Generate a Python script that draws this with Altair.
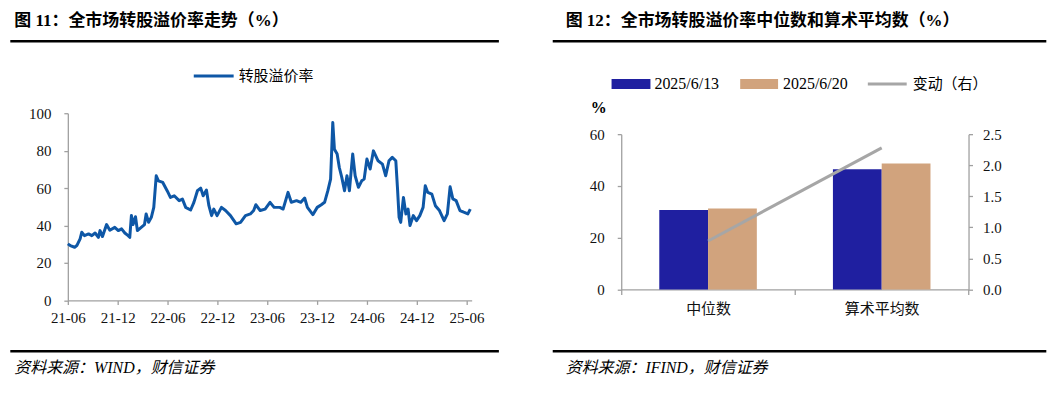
import altair as alt
import pandas as pd

# ---------------- data ----------------
dates = [
    "2021-06-01", "2021-06-10", "2021-06-26", "2021-07-04", "2021-07-16", "2021-07-22", "2021-08-01", "2021-08-16", "2021-08-28", "2021-09-09",
    "2021-09-21", "2021-09-27", "2021-10-06", "2021-10-21", "2021-11-02", "2021-11-20", "2021-12-03", "2021-12-15", "2021-12-27", "2022-01-08",
    "2022-01-14", "2022-01-20", "2022-01-26", "2022-02-04", "2022-02-11", "2022-02-25", "2022-03-09", "2022-03-15", "2022-03-24", "2022-04-03",
    "2022-04-12", "2022-04-21", "2022-04-29", "2022-05-15", "2022-05-31", "2022-06-12", "2022-06-26", "2022-07-14", "2022-07-26", "2022-08-07",
    "2022-08-25", "2022-09-06", "2022-09-19", "2022-10-01", "2022-10-10", "2022-10-22", "2022-10-31", "2022-11-10", "2022-11-18", "2022-11-30",
    "2022-12-16", "2022-12-31", "2023-01-18", "2023-02-08", "2023-02-24", "2023-03-14", "2023-04-01", "2023-04-13", "2023-04-21", "2023-05-07",
    "2023-05-25", "2023-06-12", "2023-06-27", "2023-07-18", "2023-07-30", "2023-08-17", "2023-08-29", "2023-09-17", "2023-10-03", "2023-10-17",
    "2023-10-27", "2023-11-16", "2023-12-02", "2023-12-17", "2023-12-29", "2024-01-10", "2024-01-20", "2024-01-28", "2024-02-03", "2024-02-13",
    "2024-02-21", "2024-03-01", "2024-03-11", "2024-03-20", "2024-03-29", "2024-04-10", "2024-04-19", "2024-05-01", "2024-05-13", "2024-05-22",
    "2024-06-01", "2024-06-13", "2024-06-25", "2024-07-12", "2024-07-28", "2024-08-09", "2024-08-21", "2024-09-02", "2024-09-15", "2024-09-21",
    "2024-09-27", "2024-10-03", "2024-10-13", "2024-10-22", "2024-10-30", "2024-11-06", "2024-11-18", "2024-11-30", "2024-12-12", "2024-12-24",
    "2025-01-01", "2025-01-10", "2025-01-25", "2025-02-07", "2025-02-22", "2025-03-11", "2025-03-23", "2025-04-02", "2025-04-12", "2025-04-24",
    "2025-05-08", "2025-05-22", "2025-06-06", "2025-06-15",
]
premium = [
    30.2, 29.3, 28.4, 29.3, 32.9, 36.4, 34.6, 35.5, 34.6, 36.0,
    33.7, 37.3, 34.1, 40.5, 37.5, 39.0, 37.3, 38.2, 36.0, 34.6,
    33.7, 45.3, 40.5, 44.7, 37.3, 39.0, 40.5, 46.2, 41.7, 44.4,
    49.7, 66.6, 63.9, 63.0, 58.6, 55.0, 55.9, 53.3, 54.1, 49.7,
    48.3, 52.4, 58.6, 60.0, 55.9, 59.0, 50.6, 45.3, 48.8, 45.3,
    49.7, 48.0, 45.3, 40.9, 41.7, 45.3, 46.2, 48.0, 51.1, 48.0,
    48.8, 52.4, 49.7, 49.7, 48.8, 57.7, 52.4, 53.3, 52.4, 54.7,
    49.7, 45.8, 49.7, 51.1, 52.4, 58.6, 64.8, 95.0, 80.8, 78.2,
    71.0, 65.7, 58.6, 66.6, 58.6, 78.2, 66.6, 60.4, 63.9, 64.8,
    75.5, 70.2, 79.9, 74.6, 72.8, 66.6, 74.6, 76.4, 74.6, 60.4,
    44.4, 41.7, 55.0, 46.2, 48.8, 40.0, 45.3, 42.6, 45.3, 49.7,
    61.3, 57.7, 56.8, 50.6, 48.0, 42.6, 46.2, 60.7, 54.2, 53.3,
    48.0, 47.1, 46.2, 48.8,
]
tick_dates = ["2021-06-01", "2021-12-01", "2022-06-01", "2022-12-01", "2023-06-01",
              "2023-12-01", "2024-06-01", "2024-12-01", "2025-06-01"]
x_domain = ["2021-06-01", "2025-06-20"]

categories = ["中位数", "算术平均数"]
series_names = ["2025/6/13", "2025/6/20"]
val_0613 = [30.7, 46.4]
val_0620 = [31.3, 48.7]
change = [0.78, 2.28]

# ---------------- style ----------------
SERIF = "Liberation Serif"
CJK = "Noto Sans CJK SC"
MIX = "Liberation Serif, Noto Sans CJK SC"
BLUE = "#0E57A6"
NAVY = "#1F1FA0"
TAN = "#D1A37D"
GRAY = "#A6A6A6"
AXC = "#A0A0A0"

W1, H1 = 405, 187.7
W2, H2 = 348.3, 176.7
TOP2 = 21


def to_ms(s):
    return int(pd.Timestamp(s, tz="UTC").value // 10**6)


df_line = pd.DataFrame({"date": [to_ms(d) for d in dates], "premium": premium})
df_bar = pd.DataFrame({
    "cat": categories * 2,
    "series": [series_names[0]] * 2 + [series_names[1]] * 2,
    "value": val_0613 + val_0620,
})
df_chg = pd.DataFrame({"cat": categories, "change": change})
one = pd.DataFrame({"k": [0]})


def txt(s, x, y, size, font, weight="normal", style="normal", align="left"):
    return alt.Chart(one).mark_text(
        text=s, align=align, baseline="middle", font=font, fontSize=size,
        fontWeight=weight, fontStyle=style, color="#000"
    ).encode(x=alt.value(x), y=alt.value(y))


def hrule(x1, x2, y, color="#000", width=2.5):
    return alt.Chart(one).mark_rule(color=color, strokeWidth=width).encode(
        x=alt.value(x1), x2=alt.value(x2), y=alt.value(y))


def box(x1, x2, y1, y2, color, opacity=1.0):
    return alt.Chart(one).mark_rect(color=color, opacity=opacity).encode(
        x=alt.value(x1), x2=alt.value(x2), y=alt.value(y1), y2=alt.value(y2))


# ---------------- left panel ----------------
line = alt.Chart(df_line).mark_line(color=BLUE, strokeWidth=3, strokeJoin="round").encode(
    x=alt.X("date:T",
            scale=alt.Scale(type="utc", domain=[to_ms(d) for d in x_domain]),
            axis=alt.Axis(title=None, values=[to_ms(d) for d in tick_dates],
                          labelExpr="utcFormat(datum.value, '%y-%m')",
                          labelOverlap=False, labelFlush=False,
                          labelPadding=6, tickSize=4)),
    y=alt.Y("premium:Q", scale=alt.Scale(domain=[0, 100]),
            axis=alt.Axis(title=None, values=[0, 20, 40, 60, 80, 100],
                          tickSize=4, labelPadding=13)),
)

left = alt.layer(
    box(-57.7, -56.7, -104.3, -103.3, "#fff", 0.0),
    line,
    txt("图 11：全市场转股溢价率走势（%）", -53.7, -92.3, 17, MIX, weight="bold"),
    hrule(-57.7, 432.3, -72.3),
    hrule(126.3, 166.3, -37.3, color=BLUE, width=3),
    txt("转股溢价率", 171.3, -37.3, 15, CJK),
    hrule(-57.7, 432.3, 238.7),
    txt("资料来源：WIND，财信证券", -53.7, 255.7, 16, MIX, style="italic"),
).properties(width=W1, height=H1)

# ---------------- right panel ----------------
bars = alt.Chart(df_bar).mark_bar().encode(
    x=alt.X("cat:N", sort=categories,
            scale=alt.Scale(paddingInner=0, paddingOuter=0),
            axis=alt.Axis(title=None, labelAngle=0, tickBand="extent", labelFont=CJK,
                          labelFontSize=15, tickSize=5, labelPadding=7)),
    xOffset=alt.XOffset("series:N", sort=series_names,
                        scale=alt.Scale(paddingInner=0, paddingOuter=0.78)),
    y=alt.Y("value:Q", scale=alt.Scale(domain=[0, 60], range=[H2, TOP2]),
            axis=alt.Axis(title=None, orient="left", values=[0, 20, 40, 60],
                          tickSize=4, labelPadding=13)),
    color=alt.Color("series:N",
                    scale=alt.Scale(domain=series_names, range=[NAVY, TAN]),
                    legend=None),
)

chg = alt.Chart(df_chg).mark_line(color=GRAY, strokeWidth=3).encode(
    x=alt.X("cat:N", sort=categories),
    y=alt.Y("change:Q", scale=alt.Scale(domain=[0, 2.5], range=[H2, TOP2]),
            axis=alt.Axis(title=None, orient="right", values=[0, 0.5, 1.0, 1.5, 2.0, 2.5],
                          format=".1f", tickSize=4, labelPadding=10)),
)

deco_right = alt.layer(
    txt("图 12：全市场转股溢价率中位数和算术平均数（%）", -55.7, -92.3, 17, MIX, weight="bold"),
    hrule(-68.7, 426.3, -72.3),
    box(-9.7, 29.3, -34.3, -24.3, NAVY),
    txt("2025/6/13", 33.3, -29.3, 16, SERIF),
    box(119.3, 157.3, -34.3, -24.3, TAN),
    txt("2025/6/20", 162.3, -29.3, 16, SERIF),
    hrule(247.3, 286.3, -29.3, color=GRAY, width=3),
    txt("变动（右）", 292.3, -29.3, 15, CJK),
    txt("%", -22.7, -5.3, 16, SERIF, weight="bold", align="center"),
    hrule(-68.7, 426.3, 238.7),
    txt("资料来源：IFIND，财信证券", -55.7, 255.7, 16, MIX, style="italic"),
)

right = alt.layer(bars, chg, deco_right).resolve_scale(y="independent").properties(
    width=W2, height=H2)

chart = alt.hconcat(left, right, spacing=150, bounds="flush").properties(
    padding=0
).configure_view(stroke="transparent").configure_axis(
    grid=False, labelFont=SERIF, labelFontSize=15, labelColor="#111",
    domainColor=AXC, tickColor=AXC, domainWidth=1.3, tickWidth=1.3,
)

chart.save("out.html", embed_options={"renderer": "svg", "actions": False})
